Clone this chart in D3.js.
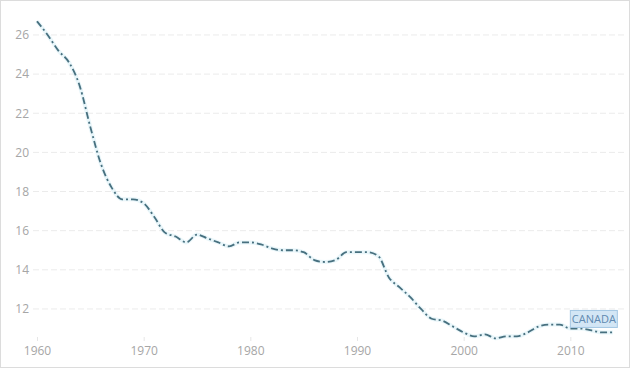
<!DOCTYPE html>
<html>
<head>
<meta charset="utf-8">
<script src="https://cdn.jsdelivr.net/npm/d3@7"></script>
<style>
  body { margin: 0; background: #fff; }
  svg { display: block; font-family: "Open Sans", "DejaVu Sans", sans-serif; }
</style>
</head>
<body>
<svg id="chart" width="631" height="370"></svg>
<script>
// Canada, crude birth rate (per 1,000 people)
const years = d3.range(1960, 2015);
const birthRate = [
  26.7, 26.0, 25.2, 24.6, 23.4, 21.3, 19.4, 18.2, 17.6, 17.6,
  17.4, 16.7, 15.9, 15.7, 15.4, 15.8, 15.6, 15.4, 15.2, 15.4,
  15.4, 15.3, 15.1, 15.0, 15.0, 14.9, 14.5, 14.4, 14.5, 14.9,
  14.9, 14.9, 14.7, 13.6, 13.1, 12.6, 12.0, 11.5, 11.4, 11.1,
  10.8, 10.6, 10.7, 10.5, 10.6, 10.6, 10.8, 11.1, 11.2, 11.2,
  11.0, 11.0, 10.9, 10.8, 10.8
];
const yTicks = [12, 14, 16, 18, 20, 22, 24, 26];
const xTicks = [1960, 1970, 1980, 1990, 2000, 2010];
const seriesName = "CANADA";

function drawLineChart(graphId) {
    let svg = d3.select('#' + graphId),
        _width = +svg.attr('width'),
        _height = +svg.attr('height');

    let values = years.map((y, i) => ({ x: y, y: birthRate[i] }));

    // outer frame
    svg.append('rect')
        .attr('x', 0.5)
        .attr('y', 0.5)
        .attr('width', _width - 2)
        .attr('height', _height - 3)
        .attr('fill', '#fff')
        .attr('stroke', '#dcdcdc');

    let xScale = d3.scaleLinear()
        .domain([1960, 2014])
        .range([37, 613]);

    let yScale = d3.scaleLinear()
        .domain([10, 27])
        .range([348.1, 15.4]);

    // grid lines
    svg.append('g')
        .attr('class', 'grid')
        .selectAll('line')
        .data(yTicks)
        .join('line')
        .attr('x1', 33)
        .attr('x2', 624)
        .attr('y1', d => yScale(d))
        .attr('y2', d => yScale(d))
        .attr('stroke', '#ebebeb')
        .attr('stroke-dasharray', '6,3');

    // y axis (no domain line)
    let yAxis = svg.append('g')
        .attr('transform', 'translate(33,0)')
        .call(d3.axisLeft(yScale).tickValues(yTicks).tickSize(0).tickPadding(4));
    yAxis.select('.domain').remove();
    yAxis.selectAll('.tick text')
        .attr('fill', '#a6a6a6')
        .style('font-size', '12px')
        .style('font-family', '"Open Sans", "DejaVu Sans", sans-serif');

    // x axis
    let xAxis = svg.append('g')
        .attr('transform', 'translate(0,337)')
        .call(d3.axisBottom(xScale).tickValues(xTicks).tickFormat(d3.format('d')).tickSize(4).tickPadding(5));
    xAxis.select('.domain').remove();
    xAxis.selectAll('.tick line').attr('stroke', '#e6e6e6');
    xAxis.selectAll('.tick text')
        .attr('fill', '#a6a6a6')
        .style('font-size', '12px')
        .style('font-family', '"Open Sans", "DejaVu Sans", sans-serif');

    let line = d3.line()
        .curve(d3.curveMonotoneX)
        .x(d => xScale(d.x))
        .y(d => yScale(d.y));

    // soft halo under the line
    svg.append('path')
        .datum(values)
        .attr('d', line)
        .attr('fill', 'none')
        .attr('stroke', '#cfeaf3')
        .attr('stroke-opacity', 0.45)
        .attr('stroke-width', 4)
        .attr('stroke-linejoin', 'round');

    svg.append('path')
        .datum(values)
        .attr('d', line)
        .attr('fill', 'none')
        .attr('stroke', '#47707f')
        .attr('stroke-width', 1.8)
        .attr('stroke-dasharray', '7,3,2,3');

    // series label
    let last = values[values.length - 1];
    let lx = xScale(2010),
        ly = yScale(last.y) - 22;
    let label = svg.append('g').attr('transform', 'translate(' + lx + ',' + ly + ')');
    label.append('rect')
        .attr('width', 47)
        .attr('height', 17)
        .attr('fill', '#d3e6f5')
        .attr('stroke', '#a3c6e3');
    label.append('text')
        .attr('x', 23.5)
        .attr('y', 12.5)
        .attr('text-anchor', 'middle')
        .attr('fill', '#6089b0')
        .style('font-size', '11px')
        .text(seriesName);
}

drawLineChart('chart');
</script>
</body>
</html>
